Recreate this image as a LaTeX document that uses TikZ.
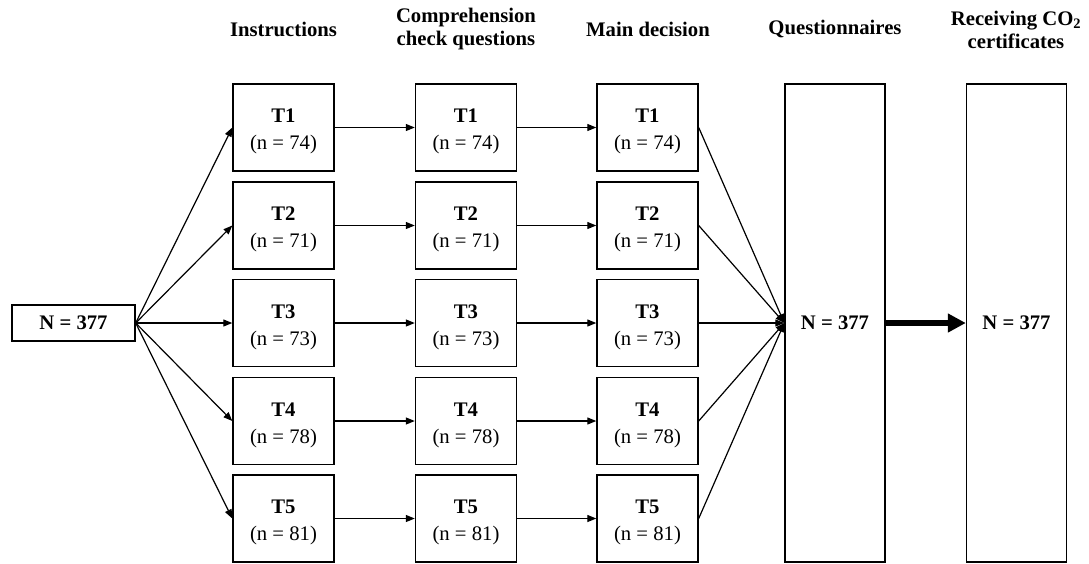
\documentclass[tikz,border=0pt]{standalone}
\usepackage{fontspec}
\setmainfont{Liberation Serif}
\usetikzlibrary{arrows.meta}
\begin{document}
\begin{tikzpicture}[x=1pt,y=-1pt,
  txt/.style={font=\fontsize{20.7}{27}\selectfont},
  tbox/.style={draw, line width=1.4pt, minimum width=101pt, minimum height=87pt, inner sep=0pt},
  ttext/.style={inner sep=0pt, align=center, txt},
  bigbox/.style={draw, line width=1.4pt, minimum width=100pt, minimum height=478pt, inner sep=0pt, align=center, font=\fontsize{20.7}{24.5}\selectfont\bfseries},
  hdr/.style={align=center, inner sep=0pt, font=\fontsize{20.7}{23}\selectfont\bfseries},
  arr/.style={line width=1.2pt, -{Triangle[length=9pt,width=7pt]}},
  thick arr/.style={line width=6pt, -{Triangle[length=18pt,width=18pt]}}
]
\useasboundingbox (0,0) rectangle (1089,563);
% headers
\node[hdr] (h1) at (283.5,29) {Instructions};
\node[hdr] (h2) at (466,29.5) {Comprehension\\check questions};
\node[hdr] (h3) at (648,29) {Main decision};
\node[hdr] (h4) at (835,29) {Questionnaires};
\node[hdr] (h5) at (1016,29.5) {Receiving CO\textsubscript{2}\\certificates};
% start
\node[draw, line width=1.4pt, minimum width=123pt, minimum height=36pt, inner sep=0pt, font=\fontsize{20.7}{24.5}\selectfont\bfseries] (N) at (73.5,323) {N = 377};
% columns
\foreach \i/\n/\y in {1/74/127.5,2/71/225.5,3/73/323,4/78/421,5/81/518.5}{
  \node[tbox] (a\i) at (283.5,\y) {};
  \node[tbox] (b\i) at (466,\y) {};
  \node[tbox] (c\i) at (647.5,\y) {};
  \node[ttext] (a\i t) at ([yshift=-4pt]a\i.center) {\textbf{T\i}\\(n = \n)};
  \node[ttext] (b\i t) at ([yshift=-4pt]b\i.center) {\textbf{T\i}\\(n = \n)};
  \node[ttext] (c\i t) at ([yshift=-4pt]c\i.center) {\textbf{T\i}\\(n = \n)};
}
\node[bigbox] (Q) at (835,323) {N = 377};
\node[bigbox] (R) at (1016.5,323) {N = 377};
\foreach \i in {1,...,5}{
  \draw[arr] (N.east) -- (a\i.west);
  \draw[arr] (a\i.east) -- (b\i.west);
  \draw[arr] (b\i.east) -- (c\i.west);
  \draw[arr] (c\i.east) -- (Q.west);
}
\draw[thick arr] (Q.east) -- (R.west);
\end{tikzpicture}
\end{document}
